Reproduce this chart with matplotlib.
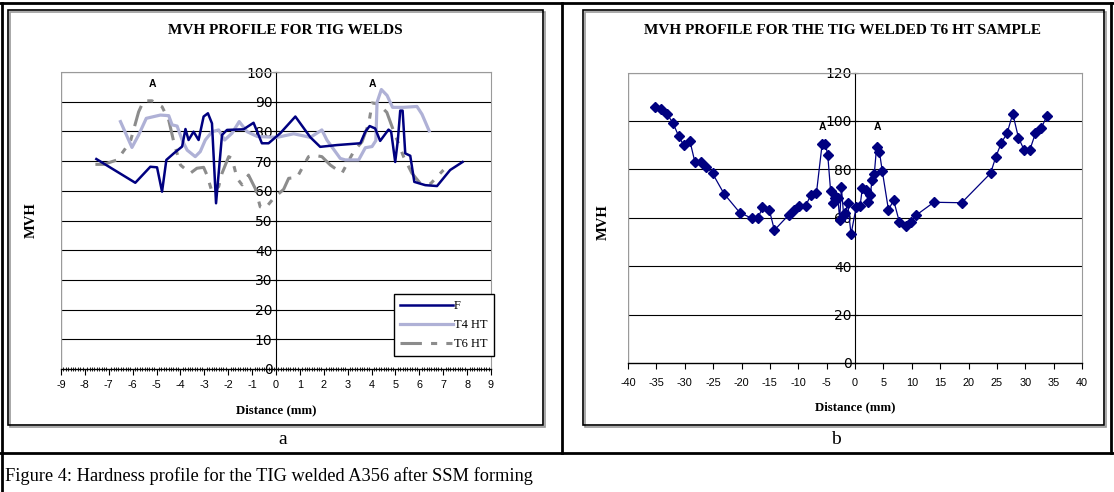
import matplotlib.pyplot as plt
from matplotlib.patches import Rectangle
from matplotlib.lines import Line2D

W, H = 1114, 492

# --- panel a data ---
f_x = [-7.52, -5.89, -5.26, -4.98, -4.77, -4.59, -4.28, -3.93, -3.79, -3.66, -3.45, -3.24,
       -3.03, -2.85, -2.68, -2.51, -2.26, -2.05, -1.36, -0.94, -0.59, -0.31, 0.18, 0.81,
       1.44, 1.85, 2.55, 3.53, 3.74, 3.92, 4.15, 4.36, 4.71, 4.82, 4.99, 5.10, 5.20, 5.30,
       5.41, 5.62, 5.79, 6.25, 6.74, 7.29, 7.81]
f_y = [70.7, 62.7, 68.1, 67.9, 59.7, 70.4, 72.6, 74.9, 80.8, 77.1, 79.9, 77.1,
       85.0, 86.1, 82.7, 55.8, 78.8, 80.5, 80.7, 82.9, 76.0, 76.0, 79.4, 85.0,
       78.0, 74.8, 75.4, 76.0, 79.9, 81.8, 81.0, 76.8, 80.6, 79.9, 69.7, 77.0, 87.0, 87.0,
       72.6, 71.8, 63.0, 61.9, 61.6, 67.0, 69.7]

t4_x = [-6.51, -6.03, -5.75, -5.43, -4.84, -4.49, -4.35, -4.14, -3.93, -3.72, -3.38, -3.17,
        -2.96, -2.68, -2.40, -2.15, -1.84, -1.54, -1.21, -0.79, 0.04, 0.74, 1.44, 1.92,
        2.13, 2.69, 2.90, 3.46, 3.74, 4.02, 4.18, 4.23, 4.41, 4.65, 4.88, 5.34, 5.90, 6.11,
        6.41]
t4_y = [83.3, 74.6, 78.8, 84.4, 85.5, 85.3, 82.2, 81.8, 77.1, 73.7, 71.5, 73.2,
        77.1, 79.9, 80.5, 77.1, 79.4, 83.3, 79.9, 78.3, 78.0, 79.2, 78.0, 80.5,
        77.1, 70.9, 70.4, 70.4, 74.5, 74.9, 76.9, 89.8, 94.1, 92.1, 88.1, 88.1, 88.4, 85.8,
        80.2]

t6_x = [-7.56, -7.21, -6.65, -6.10, -5.75, -5.54, -5.19, -4.77, -4.49, -4.28, -4.00, -3.59,
        -3.31, -3.03, -2.89, -2.68, -2.40, -2.26, -1.98, -1.84, -1.63, -1.42, -1.15, -0.87,
        -0.66, -0.45, -0.10, 0.32, 0.53, 0.88, 1.36, 1.57, 1.92, 2.27, 2.76, 3.25, 3.60,
        3.88, 3.95, 4.02, 4.29, 4.64, 4.92, 5.34, 5.69, 6.04, 6.46, 7.01]
t6_y = [68.9, 68.9, 70.4, 76.5, 86.6, 90.3, 90.3, 88.3, 83.8, 76.5, 68.7, 65.9,
        67.6, 67.9, 65.3, 59.7, 61.4, 65.9, 71.5, 70.9, 64.2, 62.0, 65.3, 60.8,
        54.6, 54.1, 57.5, 60.5, 64.2, 64.5, 71.5, 72.0, 71.5, 68.7, 65.9, 73.2, 76.5,
        82.6, 85.9, 89.6, 89.2, 86.4, 80.2, 71.5, 65.9, 62.5, 62.3, 67.0]

a_ticks_x = list(range(-9, 10))
a_ticks_y = list(range(0, 101, 10))
a_marks_x = [-5.16, 4.05]
a_marks_y = [96, 96]

# --- panel b data ---
b_x = [-35.2, -34.2, -33.1, -32.1, -31.1, -30.2, -29.1, -28.2, -27.1, -26.2, -25.1, -23.1,
       -20.3, -18.2, -17.1, -16.3, -15.1, -14.2, -11.7, -10.8, -9.8, -8.7, -7.8, -6.8,
       -5.8, -5.2, -4.8, -4.3, -3.8, -3.6, -3.3, -3.0, -2.7, -2.4, -2.0, -1.7, -1.3, -0.7,
       0.2, 0.9, 1.3, 2.0, 2.3, 2.7, 3.0, 3.4, 3.8, 4.3, 4.8, 5.9, 6.8, 7.8, 8.9, 9.9,
       10.8, 13.9, 18.8, 23.9, 24.8, 25.8, 26.8, 27.8, 28.8, 29.8, 30.8, 31.8, 32.8, 33.8]
b_y = [105.9, 104.9, 102.8, 99.2, 93.9, 90.0, 91.8, 82.9, 82.9, 81.1, 78.3, 70.0,
       62.1, 59.8, 59.8, 64.3, 63.2, 54.9, 61.1, 63.3, 65.0, 65.0, 69.2, 70.1,
       90.3, 90.3, 85.9, 71.1, 66.2, 68.0, 68.7, 68.0, 59.1, 72.6, 61.1, 62.1, 66.2, 53.2,
       64.3, 64.9, 72.4, 71.5, 66.6, 69.4, 75.6, 78.1, 89.1, 87.3, 79.4, 63.2, 67.3, 58.4,
       56.7, 58.4, 61.1, 66.4, 66.2, 78.4, 85.1, 91.0, 94.9, 103.0, 93.1, 88.0, 88.0, 94.9,
       96.9, 102.0]
b_ticks_x = list(range(-40, 41, 5))
b_ticks_y = list(range(0, 121, 20))
b_marks_x = [-5.8, 4.0]
b_marks_y = [97.4, 97.4]

SERIF = ['Liberation Serif', 'DejaVu Serif']
SANS = ['Liberation Sans', 'DejaVu Sans']


def fx(x):
    return x / W


def fy(y):
    return 1 - y / H


def setup_axes(ax, xt, yt, xpad, minor=None):
    ax.set_xlim(xt[0], xt[-1])
    ax.set_ylim(yt[0], yt[-1])
    ax.set_xticks(xt)
    ax.set_yticks(yt)
    ax.set_xticklabels([str(v) for v in xt], family=SANS, fontsize=7.8)
    ax.set_yticklabels([str(v) for v in yt], family=SANS, fontsize=7.3)
    ax.spines['left'].set_position(('data', 0))
    ax.spines['left'].set_color('black')
    ax.spines['left'].set_zorder(1)
    ax.spines['bottom'].set_color('black')
    ax.spines['bottom'].set_linewidth(1.0)
    for s in ['top', 'right']:
        ax.spines[s].set_color('#9a9a9a')
    for v in yt[1:]:
        ax.axhline(v, color='black', lw=0.8, zorder=1)
    ax.axvline(xt[0], color='#9a9a9a', lw=1, zorder=1)
    ax.tick_params(axis='y', direction='inout', length=5, width=0.8, pad=0, colors='black')
    ax.tick_params(axis='x', direction='out', length=4, width=0.8, pad=xpad, colors='black')
    if minor is not None:
        ax.set_xticks(minor, minor=True)
        ax.tick_params(axis='x', which='minor', direction='inout', length=3, width=0.6)
    ax.set_facecolor('none')


fig = plt.figure(figsize=(W / 100, H / 100), dpi=100)

# table and chart frames
for (x0, y0, x1, y1) in [(8, 10, 543, 425), (583, 10, 1104, 425)]:
    fig.patches.append(Rectangle((fx(x0) + 0.002, fy(y1) - 0.004), fx(x1 - x0), fy(y0) - fy(y1),
                                 transform=fig.transFigure, fill=False, ec='#9a9a9a', lw=1.2))
    fig.patches.append(Rectangle((fx(x0), fy(y1)), fx(x1 - x0), fy(y0) - fy(y1),
                                 transform=fig.transFigure, fill=False, ec='black', lw=1.2))
for (x0, y0, x1, y1) in [(0, 3, W, 3), (2, 3, 2, H), (562, 3, 562, 453), (1111, 3, 1111, 453),
                         (0, 453, W, 453)]:
    fig.add_artist(Line2D([fx(x0), fx(x1)], [fy(y0), fy(y1)], transform=fig.transFigure,
                          color='black', lw=2))

# panel a
ax1 = fig.add_axes([fx(61), fy(369), fx(491 - 61), fy(72) - fy(369)])
setup_axes(ax1, a_ticks_x, a_ticks_y, 4, minor=[i / 10 for i in range(-90, 91)])
ax1.plot(t6_x, t6_y, color='#8c8c8c', lw=2.2, dashes=(7, 3, 2, 3, 2, 3), label='T6 HT', zorder=3)
ax1.plot(t4_x, t4_y, color='#afb1d6', lw=2.3, label='T4 HT', zorder=3)
ax1.plot(f_x, f_y, color='#000080', lw=1.8, label='F', zorder=4)
for x, y in zip(a_marks_x, a_marks_y):
    ax1.text(x, y, 'A', family=SANS, fontsize=7.5, fontweight='bold', ha='center', va='center')
h, l = ax1.get_legend_handles_labels()
leg = ax1.legend(h[::-1], l[::-1], loc='upper left', bbox_to_anchor=(fx(394), fy(294)),
                 bbox_transform=fig.transFigure, prop={'family': SERIF, 'size': 9},
                 frameon=True, fancybox=False, edgecolor='black', framealpha=1,
                 handlelength=4.2, handletextpad=0.1, borderpad=0.5, labelspacing=0.55,
                 borderaxespad=0)
leg.get_frame().set_linewidth(1)
leg.set_zorder(6)

# panel b
ax2 = fig.add_axes([fx(628), fy(363), fx(1082 - 628), fy(72.5) - fy(363)])
setup_axes(ax2, b_ticks_x, b_ticks_y, 7)
ax2.plot(b_x, b_y, color='#000080', lw=0.9, marker='D', markersize=5, zorder=4)
for x, y in zip(b_marks_x, b_marks_y):
    ax2.text(x, y, 'A', family=SANS, fontsize=7.5, fontweight='bold', ha='center', va='center')

# texts
fig.text(fx(285), fy(31), 'MVH PROFILE FOR TIG WELDS', family=SERIF, fontsize=11,
         fontweight='bold', ha='center', va='center')
fig.text(fx(843), fy(31), 'MVH PROFILE FOR THE TIG WELDED T6 HT SAMPLE', family=SERIF,
         fontsize=11, fontweight='bold', ha='center', va='center')
fig.text(fx(31), fy(220), 'MVH', family=SERIF, fontsize=10.5, fontweight='bold',
         rotation=90, ha='center', va='center')
fig.text(fx(603), fy(222), 'MVH', family=SERIF, fontsize=10.5, fontweight='bold',
         rotation=90, ha='center', va='center')
fig.text(fx(276), fy(410), 'Distance (mm)', family=SERIF, fontsize=9.3, fontweight='bold',
         ha='center', va='center')
fig.text(fx(855), fy(407), 'Distance (mm)', family=SERIF, fontsize=9.3, fontweight='bold',
         ha='center', va='center')
fig.text(fx(283), fy(439), 'a', family=SERIF, fontsize=14, ha='center', va='center')
fig.text(fx(836), fy(439), 'b', family=SERIF, fontsize=14, ha='center', va='center')
fig.text(fx(5), fy(476), 'Figure 4: Hardness profile for the TIG welded A356 after SSM forming',
         family=SERIF, fontsize=13.2, ha='left', va='center')

fig.savefig('out.png', dpi=100)
